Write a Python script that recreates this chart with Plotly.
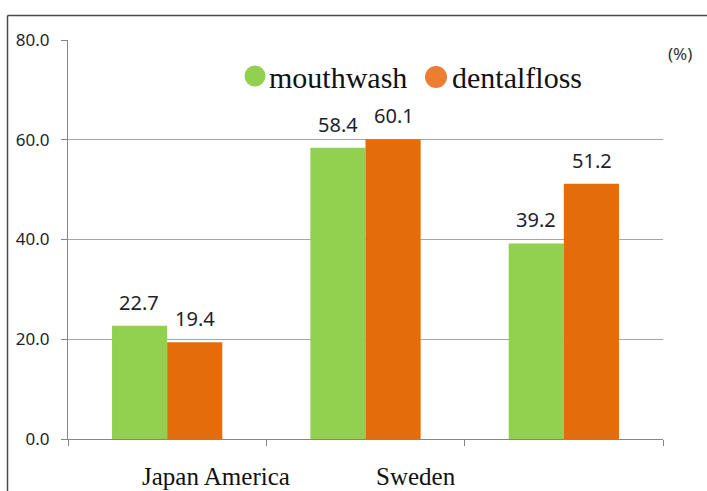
import plotly.graph_objects as go

categories = ["Japan", "America", "Sweden"]
mouthwash = [22.7, 58.4, 39.2]
dentalfloss = [19.4, 60.1, 51.2]
series_names = ["mouthwash", "dentalfloss"]
x_labels = ["Japan America", "Sweden"]
y_ticks = [0, 20, 40, 60, 80]

W, H = 707, 491
L, R, T, B = 68, 663, 40, 439


def px(x):
    return (x - L) / (R - L)


def py(y):
    return (B - y) / (B - T)


GREEN = "#92D050"
ORANGE = "#E46C0A"
NUM_FONT = "Noto Sans"
SERIF = "Liberation Serif"

fig = go.Figure()
fig.add_trace(go.Bar(x=categories, y=mouthwash, name=series_names[0],
                     marker=dict(color=GREEN, line=dict(width=0))))
fig.add_trace(go.Bar(x=categories, y=dentalfloss, name=series_names[1],
                     marker=dict(color=ORANGE, line=dict(width=0))))

annotations = []
for vals, shift in ((mouthwash, -28), (dentalfloss, 28)):
    for c, v in zip(categories, vals):
        annotations.append(dict(x=c, y=v, xref="x", yref="y", text=f"{v:.1f}",
                                showarrow=False, xshift=shift, yanchor="bottom",
                                yshift=8, font=dict(family=NUM_FONT, size=20, color="#1e1e30")))

# legend (drawn manually)
annotations.append(dict(xref="paper", yref="paper", x=px(267), y=py(77), xanchor="left",
                        yanchor="middle", text=series_names[0], showarrow=False,
                        font=dict(family=SERIF, size=30, color="#111")))
annotations.append(dict(xref="paper", yref="paper", x=px(450), y=py(77), xanchor="left",
                        yanchor="middle", text=series_names[1], showarrow=False,
                        font=dict(family=SERIF, size=30, color="#111")))
annotations.append(dict(xref="paper", yref="paper", x=px(680), y=py(53), xanchor="center",
                        yanchor="middle", text="(%)", showarrow=False,
                        font=dict(family=NUM_FONT, size=17, color="#333")))
# x labels
annotations.append(dict(xref="paper", yref="paper", x=px(216), y=py(476), xanchor="center",
                        yanchor="middle", text=x_labels[0], showarrow=False,
                        font=dict(family=SERIF, size=25, color="#111")))
annotations.append(dict(xref="paper", yref="paper", x=px(416), y=py(476), xanchor="center",
                        yanchor="middle", text=x_labels[1], showarrow=False,
                        font=dict(family=SERIF, size=25, color="#111")))

shapes = [
    dict(type="circle", xref="paper", yref="paper", xsizemode="pixel", ysizemode="pixel",
         xanchor=px(255), yanchor=py(76), x0=-10.5, x1=10.5, y0=-10.5, y1=10.5,
         fillcolor=GREEN, line=dict(width=0)),
    dict(type="circle", xref="paper", yref="paper", xsizemode="pixel", ysizemode="pixel",
         xanchor=px(436), yanchor=py(77), x0=-11, x1=11, y0=-11, y1=11,
         fillcolor="#ED7D31", line=dict(width=0)),
    # outer border (left and top)
    dict(type="line", xref="paper", yref="paper", x0=px(7.5), x1=px(7.5), y0=py(15.5), y1=py(495),
         line=dict(color="#4a4a4a", width=1.5)),
    dict(type="line", xref="paper", yref="paper", x0=px(7.5), x1=px(710), y0=py(15.5), y1=py(15.5),
         line=dict(color="#4a4a4a", width=1.5)),
]

fig.update_layout(
    width=W, height=H,
    margin=dict(l=L, r=W - R, t=T, b=H - B, pad=0),
    paper_bgcolor="white", plot_bgcolor="white",
    barmode="group", bargap=0.444, bargroupgap=0,
    showlegend=False,
    annotations=annotations, shapes=shapes,
    xaxis=dict(type="category", range=[-0.5, 2.5], showticklabels=False,
               ticks="outside", tickson="boundaries", ticklen=6, tickcolor="#868686",
               showline=True, linecolor="#868686", linewidth=1, showgrid=False, zeroline=False),
    yaxis=dict(range=[0, 80], tickvals=y_ticks, ticktext=[f"{v:.1f}" for v in y_ticks],
               ticks="outside", ticklen=6, tickcolor="#868686", ticklabelstandoff=8,
               showline=True, linecolor="#868686", linewidth=1,
               showgrid=True, gridcolor="#A6A6A6", gridwidth=1, zeroline=False,
               tickfont=dict(family=NUM_FONT, size=17, color="#1e1e30")),
)

fig.write_html("out.html")
